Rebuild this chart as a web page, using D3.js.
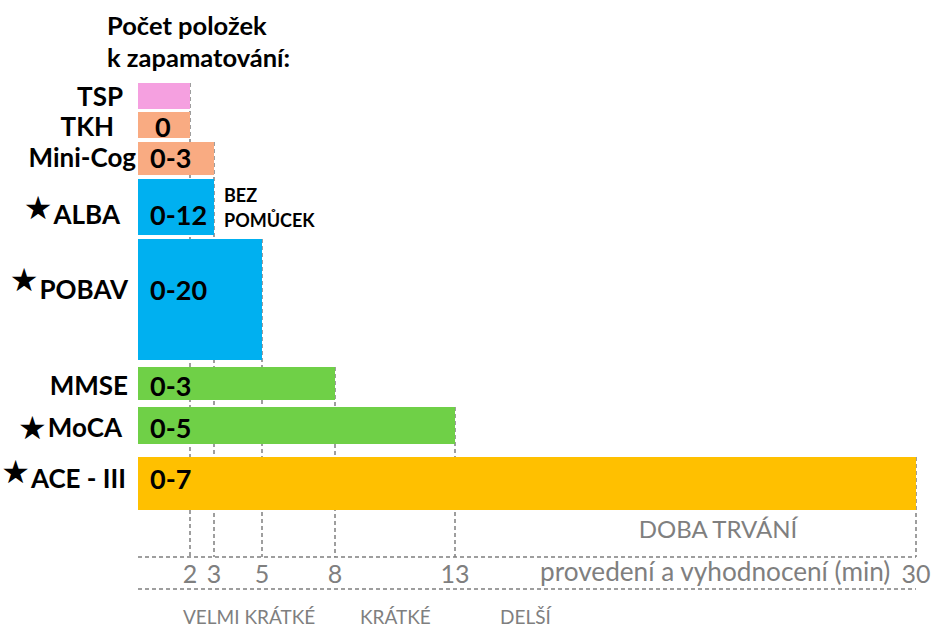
<!DOCTYPE html>
<html>
<head>
<meta charset="utf-8">
<script src="https://cdn.jsdelivr.net/npm/d3@7"></script>
<style>
  body { margin: 0; background: #fff; }
  text { font-family: Lato, "Open Sans", sans-serif; }
</style>
</head>
<body>
<svg id="chart" width="933" height="628"></svg>
<script>
// data
var tests = ['TSP', 'TKH', 'Mini-Cog', 'ALBA', 'POBAV', 'MMSE', 'MoCA', 'ACE - III'];
var minutes = [2, 2, 3, 3, 5, 8, 13, 30];
var itemsToRecall = ['', '0', '0-3', '0-12', '0-20', '0-3', '0-5', '0-7'];
var starred = [false, false, false, true, true, false, true, true];
var groupColor = ['#f5a0e0', '#f9ab82', '#f9ab82', '#00b0f0', '#00b0f0', '#6fd047', '#6fd047', '#ffc000'];
var tickMinutes = [2, 3, 5, 8, 13, 30];
var durationBands = ['VELMI KRÁTKÉ', 'KRÁTKÉ', 'DELŠÍ'];

// layout (rows have different thickness in the original)
var rowTop = [83, 112, 142, 179, 239, 367, 407, 457];
var rowBottom = [109, 138, 175, 235, 360, 400, 444, 510];
var labelRight = [123, 114, 136, 120, 128, 128, 122, 126];
var labelDy = [1, 2, -1, 8, -10, 2, 2, -5];
var starDy = [0, 0, 0, -7, -10, 0, 0, -7];

var svg = d3.select('#chart');
var grey = '#7f7f7f';

// time axis is not quite linear in the original, so a piecewise scale
var x = d3.scaleLinear()
    .domain([0, 2, 3, 5, 8, 13, 30])
    .range([138, 190, 214, 262, 335, 455, 916]);

var axisTop = 557, axisBottom = 589;

// vertical dashed guides
tickMinutes.forEach(function(m) {
    var first = minutes.indexOf(m);
    svg.append('line')
        .attr('x1', x(m)).attr('x2', x(m))
        .attr('y1', rowTop[first]).attr('y2', axisTop)
        .style('stroke', grey)
        .style('stroke-width', 1.5)
        .style('stroke-dasharray', '4,3');
});

// horizontal dashed lines
[axisTop, axisBottom].forEach(function(yy) {
    svg.append('line')
        .attr('x1', x(0)).attr('x2', x(30))
        .attr('y1', yy).attr('y2', yy)
        .style('stroke', grey)
        .style('stroke-width', 1.5)
        .style('stroke-dasharray', '4,3');
});

// bars
tests.forEach(function(t, i) {
    svg.append('rect')
        .attr('x', x(0))
        .attr('y', rowTop[i])
        .attr('width', x(minutes[i]) - x(0))
        .attr('height', rowBottom[i] - rowTop[i])
        .style('fill', groupColor[i]);

    var cy = (rowTop[i] + rowBottom[i]) / 2 + labelDy[i];

    var lab = svg.append('text')
        .attr('x', labelRight[i])
        .attr('y', cy + 9)
        .text(t)
        .style('font-size', '26px')
        .style('font-weight', 'bold')
        .style('text-anchor', 'end');

    if (starred[i]) {
        var w = lab.node().getComputedTextLength();
        svg.append('text')
            .attr('x', labelRight[i] - w - 1)
            .attr('y', cy + 11 + starDy[i])
            .text('\u2605')
            .style('font-family', '"DejaVu Sans"')
            .style('font-size', '32px')
            .style('text-anchor', 'end');
    }

    svg.append('text')
        .attr('x', i === 1 ? 155 : 150)
        .attr('y', cy + 10)
        .text(itemsToRecall[i])
        .style('font-size', '27px')
        .style('font-weight', 'bold');
});

// title
svg.append('text')
    .attr('x', 107).attr('y', 35)
    .text('Počet položek')
    .style('font-size', '25.5px')
    .style('font-weight', 'bold');
svg.append('text')
    .attr('x', 107).attr('y', 67)
    .text('k zapamatování:')
    .style('font-size', '25.5px')
    .style('font-weight', 'bold');

// "BEZ POMŮCEK" note
svg.append('text')
    .attr('x', 224).attr('y', 202)
    .text('BEZ')
    .style('font-size', '18px')
    .style('font-weight', 'bold');
svg.append('text')
    .attr('x', 224).attr('y', 227)
    .text('POMŮCEK')
    .style('font-size', '18px')
    .style('font-weight', 'bold');

// tick labels
svg.selectAll('.tick-label')
    .data(tickMinutes)
    .enter()
    .append('text')
    .attr('class', 'tick-label')
    .attr('x', function(d) { return x(d); })
    .attr('y', 583)
    .text(function(d) { return d; })
    .style('font-size', '25px')
    .style('fill', grey)
    .style('text-anchor', 'middle');

svg.append('text')
    .attr('x', 540).attr('y', 581)
    .text('provedení a vyhodnocení (min)')
    .style('font-size', '26.2px')
    .style('fill', grey);

svg.append('text')
    .attr('x', 718).attr('y', 538)
    .text('DOBA TRVÁNÍ')
    .style('font-size', '24px')
    .style('fill', grey)
    .style('text-anchor', 'middle');

// duration bands under the axis
var bandX = [183, 360, 500];
durationBands.forEach(function(b, i) {
    svg.append('text')
        .attr('x', bandX[i]).attr('y', 624)
        .text(b)
        .style('font-size', '19px')
        .style('fill', grey);
});
</script>
</body>
</html>
